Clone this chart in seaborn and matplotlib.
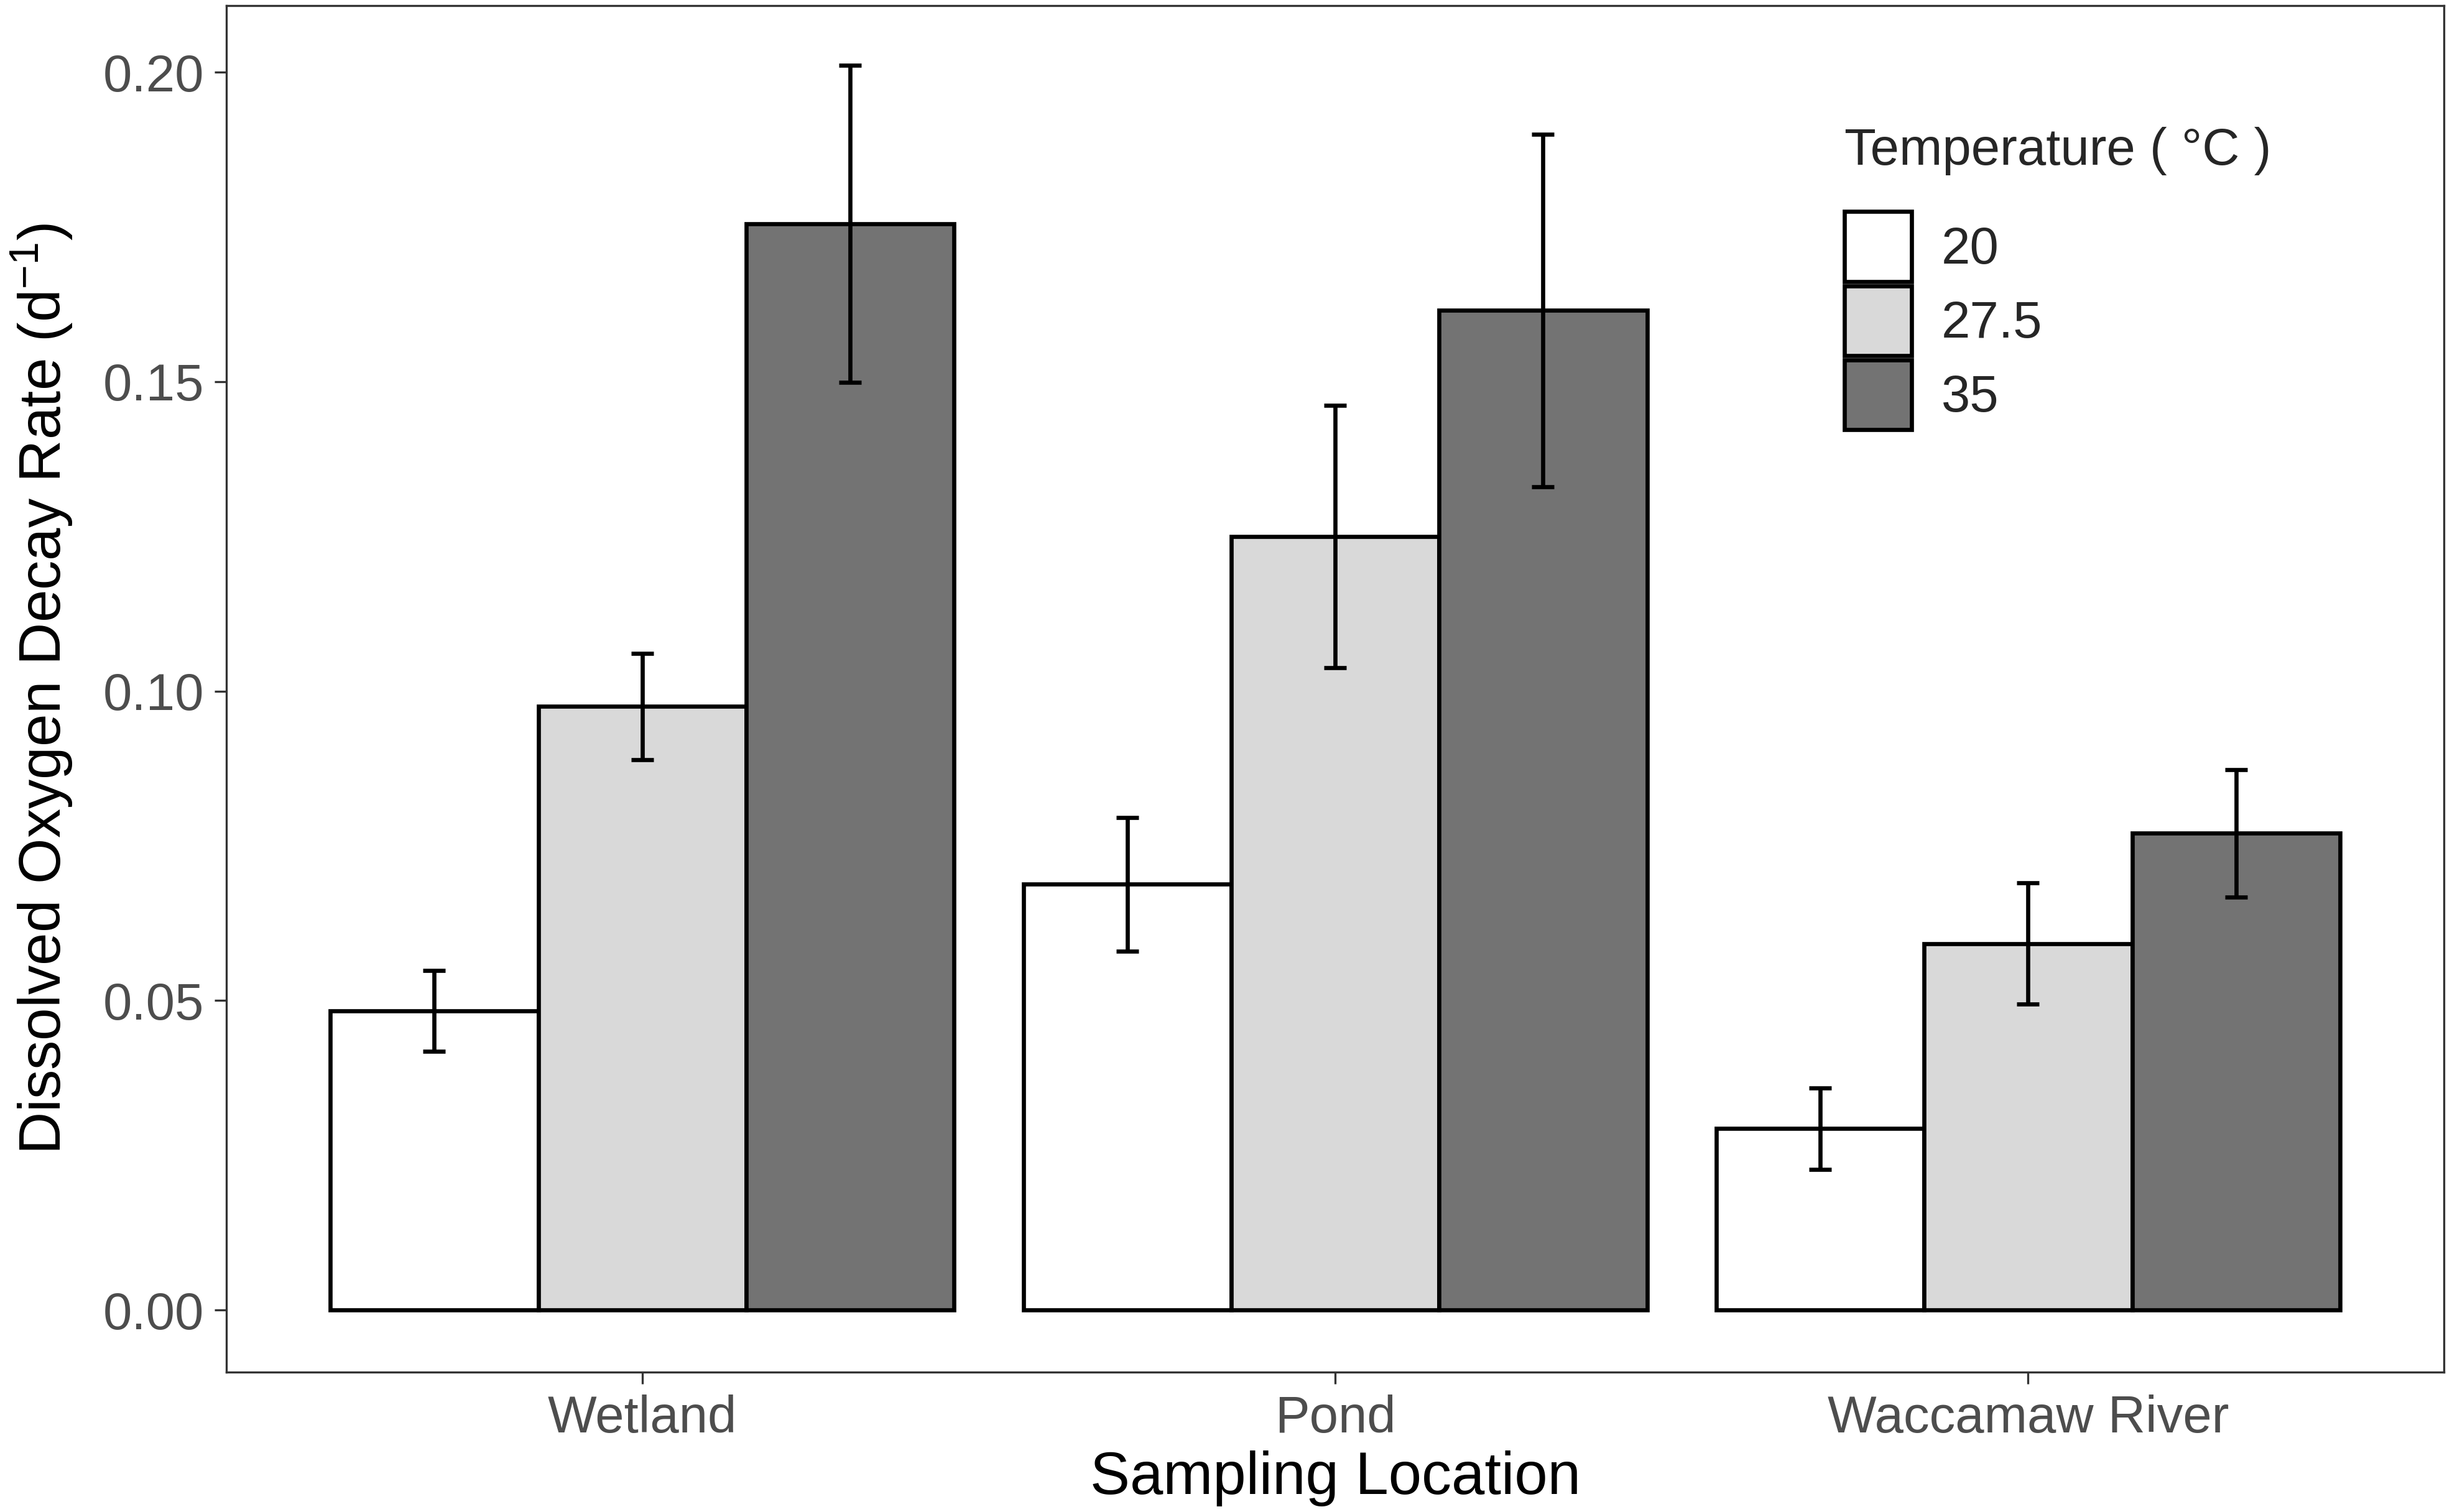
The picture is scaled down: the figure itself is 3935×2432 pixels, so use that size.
import numpy as np
import pandas as pd
import matplotlib
matplotlib.use("Agg")
import matplotlib.pyplot as plt
import seaborn as sns

# Values
locations = ["Wetland", "Pond", "Waccamaw River"]
temperatures = ["20", "27.5", "35"]
rate_20 = [0.0483, 0.0688, 0.0293]
rate_275 = [0.0975, 0.1250, 0.0592]
rate_35 = [0.1755, 0.1615, 0.0770]
se_20 = [0.0065, 0.0108, 0.0066]
se_275 = [0.0086, 0.0212, 0.0098]
se_35 = [0.0256, 0.0285, 0.0103]
fill_colors = ["#FFFFFF", "#D9D9D9", "#737373"]

rates = [rate_20, rate_275, rate_35]
ses = [se_20, se_275, se_35]
df = pd.DataFrame({
    "location": np.repeat([locations], 3, axis=0).ravel(),
    "temp": np.repeat(temperatures, 3),
    "rate": np.concatenate(rates),
    "se": np.concatenate(ses),
})

sns.set_style("white")
plt.rcParams["font.family"] = ["Liberation Sans", "DejaVu Sans"]
plt.rcParams["mathtext.fontset"] = "custom"
plt.rcParams["mathtext.rm"] = "Liberation Sans"
plt.rcParams["mathtext.it"] = "Liberation Sans:italic"

fig = plt.figure(figsize=(13.12, 8.1067), dpi=300)
ax = fig.add_axes([0.0925, 0.0925, 0.906, 0.904])

sns.barplot(data=df, x="location", y="rate", hue="temp", order=locations,
            hue_order=temperatures, palette=fill_colors, width=0.9,
            edgecolor="black", linewidth=1.6, errorbar=None, saturation=1,
            ax=ax)

# error bars at the bar centres
for cont, t in zip(ax.containers, temperatures):
    sub = df[df["temp"] == t].set_index("location").loc[locations]
    xs = [b.get_x() + b.get_width() / 2 for b in cont]
    ax.errorbar(xs, sub["rate"], yerr=sub["se"], fmt="none", ecolor="black",
                elinewidth=1.6, capsize=4.4, capthick=1.6, zorder=5)

ax.set_xlim(-0.6, 2.6)
ax.set_ylim(-0.01005, 0.2108)
ax.set_yticks([0, 0.05, 0.10, 0.15, 0.20])
ax.set_yticklabels(["0.00", "0.05", "0.10", "0.15", "0.20"])
ax.tick_params(axis="both", which="major", length=4.6, width=0.8,
               color="#333333", labelsize=20, labelcolor="#4D4D4D",
               direction="out", bottom=True, left=True, pad=4)
for sp in ax.spines.values():
    sp.set_visible(True)
    sp.set_color("#333333")
    sp.set_linewidth(0.8)

ax.set_xlabel("Sampling Location", fontsize=23, color="black", labelpad=3)
ax.set_ylabel(r"Dissolved Oxygen Decay Rate (d$^{-1}$)", fontsize=22.7,
              color="black", labelpad=11)

leg = ax.legend(title="Temperature ( °C )", loc="upper left",
                bbox_to_anchor=(0.718, 0.93), frameon=False, fontsize=20,
                title_fontsize=20, handlelength=1.3, handleheight=1.70,
                labelspacing=0.08, handletextpad=0.57, borderpad=0,
                alignment="left")
leg._legend_box.sep = 14

fig.savefig("out.png", dpi=300, facecolor="white")
